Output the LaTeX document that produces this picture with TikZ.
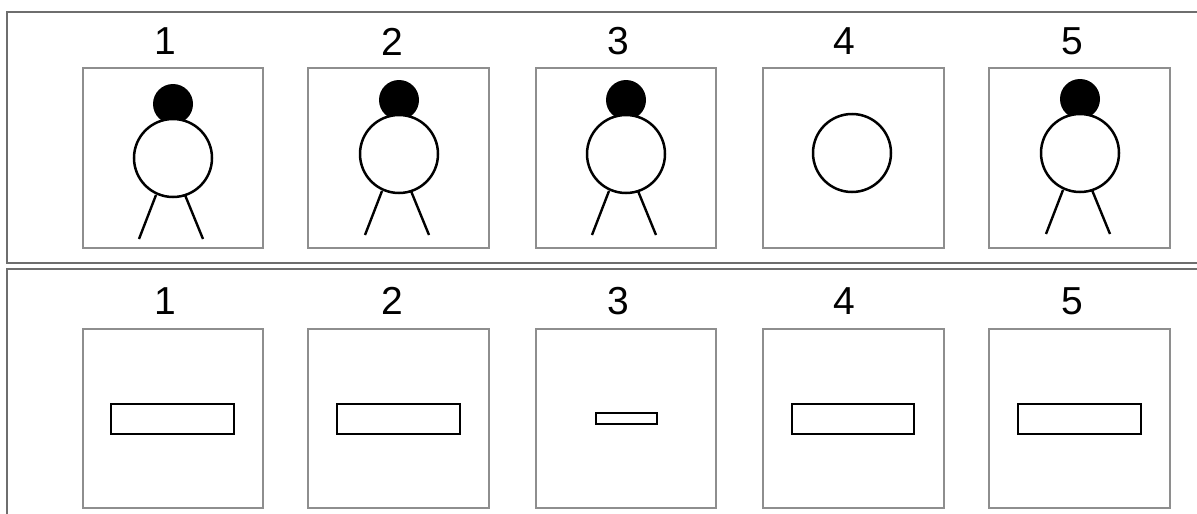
\documentclass[tikz,border=0pt]{standalone}
\usepackage{fontspec}
\setmainfont{Liberation Sans}
\usepackage{xcolor}
\definecolor{panelc}{HTML}{6E6E6E}
\definecolor{framec}{HTML}{8E8E8E}
\tikzset{
  panel/.style={draw=panelc, line width=2.2pt},
  frame/.style={draw=framec, line width=1.8pt},
  head/.style={fill=black},
  body/.style={draw=black, fill=white, line width=2.5pt},
  leg/.style={draw=black, line width=2.4pt},
  plate/.style={draw=black, fill=white, line width=2.8pt},
  num/.style={inner sep=0pt, font=\fontsize{39}{42}\selectfont},
}

\begin{document}
\begin{tikzpicture}[x=1pt,y=-1pt]
\useasboundingbox (0,0) rectangle (1197,514);
% two panels, open to the right and below
\draw[panel] (1197,12) -- (7,12) -- (7,263) -- (1197,263);
\draw[panel] (1197,269) -- (7,269) -- (7,514);
% upper row
\node[num] (u1) at (165,41.5) {1};
\node[num] (u2) at (392,41.5) {2};
\node[num] (u3) at (618,41.5) {3};
\node[num] (u4) at (844,41.5) {4};
\node[num] (u5) at (1072,41.5) {5};
\draw[frame] (83,68) rectangle (263,248);
\draw[frame] (308,68) rectangle (489,248);
\draw[frame] (536,68) rectangle (716,248);
\draw[frame] (763,68) rectangle (944,248);
\draw[frame] (989,68) rectangle (1170,248);
\fill[head] (173,104) circle (20);
\draw[leg] (156,195) -- (139,239);
\draw[leg] (185,195) -- (203,239);
\draw[body] (173,158) circle (39);
\fill[head] (399,100) circle (20);
\draw[leg] (382,191) -- (365,235);
\draw[leg] (411,191) -- (429,235);
\draw[body] (399,154) circle (39);
\fill[head] (626,100) circle (20);
\draw[leg] (609,191) -- (592,235);
\draw[leg] (638,191) -- (656,235);
\draw[body] (626,154) circle (39);
\draw[body] (852,153) circle (39);
\fill[head] (1080,99) circle (20);
\draw[leg] (1063,190) -- (1046,234);
\draw[leg] (1092,190) -- (1110,234);
\draw[body] (1080,153) circle (39);
% lower row
\node[num] (l1) at (165,301) {1};
\node[num] (l2) at (392,301) {2};
\node[num] (l3) at (618,301) {3};
\node[num] (l4) at (844,301) {4};
\node[num] (l5) at (1072,301) {5};
\draw[frame] (83,329) rectangle (263,508);
\draw[frame] (308,329) rectangle (489,508);
\draw[frame] (536,329) rectangle (716,508);
\draw[frame] (763,329) rectangle (944,508);
\draw[frame] (989,329) rectangle (1170,508);
\draw[plate] (111,404) rectangle (234,434);
\draw[plate] (337,404) rectangle (460,434);
\draw[plate] (596,413) rectangle (657,424);
\draw[plate] (792,404) rectangle (914,434);
\draw[plate] (1018,404) rectangle (1141,434);
\end{tikzpicture}
\end{document}
